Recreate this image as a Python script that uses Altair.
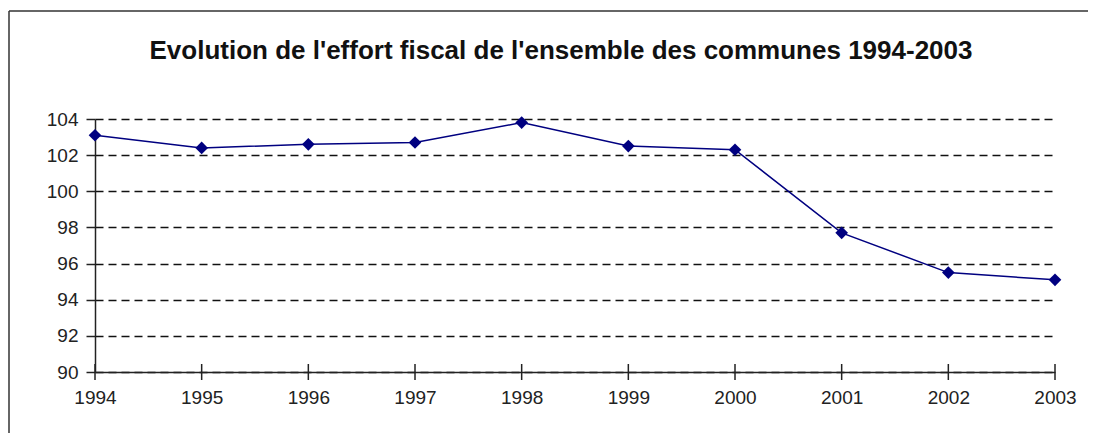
import altair as alt
import pandas as pd

years = [1994, 1995, 1996, 1997, 1998, 1999, 2000, 2001, 2002, 2003]
effort = [103.1, 102.4, 102.6, 102.7, 103.8, 102.5, 102.3, 97.7, 95.5, 95.1]
y_ticks = [90, 92, 94, 96, 98, 100, 102, 104]
title_text = "Evolution de l'effort fiscal de l'ensemble des communes 1994-2003"

df = pd.DataFrame({"annee": years, "effort": effort})
df_title = pd.DataFrame({"t": [title_text]})

FONT = "Liberation Sans"
NAVY = "#000080"
INK = "#222"

x_enc = alt.X(
    "annee:Q",
    scale=alt.Scale(domain=[years[0], years[-1]], nice=False, zero=False),
    axis=alt.Axis(
        values=years, format="d", title=None, grid=False, ticks=False,
        domainColor=INK, domainWidth=1.5,
        labelPadding=16, labelFontSize=19, labelColor=INK,
        labelFont=FONT, labelFlush=False, labelOverlap=False,
    ),
)
y_enc = alt.Y(
    "effort:Q",
    scale=alt.Scale(domain=[90, 104], nice=False, zero=False),
    axis=alt.Axis(
        values=y_ticks, title=None, grid=True, gridColor="#111",
        gridDash=[8, 5], gridWidth=1.5, gridOpacity=1,
        domainColor=INK, domainWidth=1.5, tickColor=INK, tickWidth=1.5,
        tickSize=9, labelPadding=8, labelFontSize=19, labelColor=INK,
        labelFont=FONT, labelOverlap=False,
    ),
)

base = alt.Chart(df).encode(x=x_enc, y=y_enc)
line = base.mark_line(color=NAVY, strokeWidth=1.5)
pts = base.mark_point(
    shape="diamond", filled=True, color=NAVY, opacity=1, size=160
)
xticks = base.mark_rule(color=INK, strokeWidth=1.5).encode(
    y=alt.value(245), y2=alt.value(261)
)

title = alt.Chart(df_title).mark_text(
    font=FONT, fontSize=26, fontWeight="bold", color="#111",
    align="center", baseline="alphabetic",
).encode(text="t:N", x=alt.value(466), y=alt.value(-60))

frame_top = alt.Chart(df_title).mark_rule(color="#333", strokeWidth=1.5).encode(
    x=alt.value(-86), x2=alt.value(1000), y=alt.value(-108)
)
frame_left = alt.Chart(df_title).mark_rule(color="#333", strokeWidth=1.5).encode(
    x=alt.value(-86), y=alt.value(-108), y2=alt.value(400)
)

chart = alt.layer(line, pts, xticks, title, frame_top, frame_left).properties(
    width=960,
    height=253,
    autosize=alt.AutoSizeParams(type="none"),
    padding={"left": 87, "top": 111, "right": 33, "bottom": 61},
).configure_view(stroke=None)

chart.save("out.html", embed_options={"renderer": "svg", "actions": False})
